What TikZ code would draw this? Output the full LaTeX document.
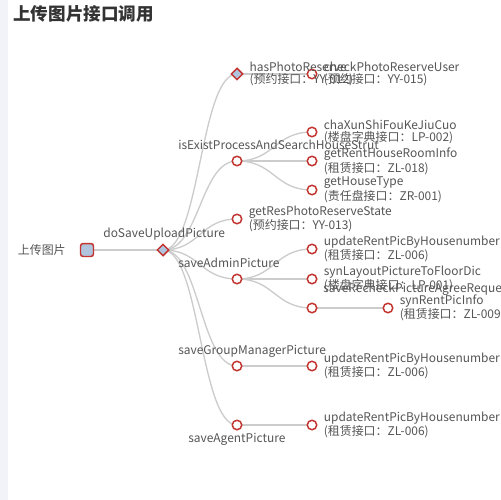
\documentclass[tikz,border=0pt]{standalone}
\usepackage{fontspec}
\setmainfont{Noto Sans CJK SC}
\usepackage{xcolor}
\usetikzlibrary{positioning,calc,shapes.geometric,backgrounds}
\definecolor{ECRed}{HTML}{C23531}
\definecolor{ECBlue}{HTML}{B0C4DE}
\definecolor{ECLine}{HTML}{CCCCCC}
\definecolor{ECText}{HTML}{555555}
\definecolor{ECTitle}{HTML}{333333}
\definecolor{ECSide}{HTML}{F2F3F8}
\tikzset{
  leaf/.style={circle,draw=ECRed,fill=white,line width=0.85pt,inner sep=0,minimum size=0.19cm},
  rootbox/.style={rectangle,rounded corners=1.5pt,draw=ECRed,fill=ECBlue,line width=0.85pt,inner sep=0,minimum size=0.26cm},
  joint/.style={diamond,aspect=1,draw=ECRed,fill=ECBlue,line width=0.85pt,inner sep=0,minimum size=0.24cm},
  tag/.style={text=ECText,inner sep=0,align=left,font=\fontsize{6.8pt}{6.8pt}\selectfont},
  edge/.style={ECLine,line width=0.75pt},
}

\begin{document}
\begin{tikzpicture}[x=0.02cm,y=-0.02cm]
\clip (0,0) rectangle (500,500);
\node[anchor=west,inner sep=0,text=ECTitle,font=\fontsize{10pt}{10pt}\selectfont\bfseries] (title) at (13,14) {上传图片接口调用};

% tree nodes
\node[rootbox] (root) at (87,250) {};
\node[joint] (dsup) at (163,250) {};
\node[joint] (hpr) at (237,74) {};
\node[leaf] (iep) at (237,161) {};
\node[leaf] (gpr) at (237,219) {};
\node[leaf] (sap) at (237,279) {};
\node[leaf] (sgm) at (237,366) {};
\node[leaf] (sag) at (237,425) {};
\node[leaf] (cpr) at (312,74) {};
\node[leaf] (cxs) at (312,132) {};
\node[leaf] (grh) at (312,161) {};
\node[leaf] (ght) at (312,190) {};
\node[leaf] (urpa) at (312,249) {};
\node[leaf] (syl) at (312,279) {};
\node[leaf] (srp) at (312,308) {};
\node[leaf] (srpi) at (388,308) {};
\node[leaf] (urpb) at (312,366) {};
\node[leaf] (urpc) at (312,425) {};

% page and edges under the nodes
\begin{scope}[on background layer]
\fill[white] (0,0) rectangle (500,500);
\fill[ECSide] (0,0) rectangle (8,500);
\foreach \a/\b in {root/dsup,dsup/hpr,dsup/iep,dsup/gpr,dsup/sap,dsup/sgm,dsup/sag,
  hpr/cpr,iep/cxs,iep/grh,iep/ght,sap/urpa,sap/syl,sap/srp,srp/srpi,sgm/urpb,sag/urpc}
  \draw[edge] let \p1=(\a), \p2=(\b) in
    (\p1) .. controls ({0.5*\x1+0.5*\x2},\y1) and ({0.5*\x1+0.5*\x2},\y2) .. (\p2);
\end{scope}

% labels
\node[tag,anchor=east] (root-t) at (66,250) {上传图片};
\node[tag,anchor=west] (dsup-t) at (103,234) {doSaveUploadPicture};
\node[tag,anchor=west] (iep-t) at (178,145) {isExistProcessAndSearchHouseStrut};
\node[tag,anchor=west] (sap-t) at (178,263) {saveAdminPicture};
\node[tag,anchor=west] (sgm-t) at (178,351) {saveGroupManagerPicture};
\node[tag,anchor=west] (sag-t) at (188,439) {saveAgentPicture};
\node[tag,anchor=west] (srp-t) at (323,289) {saveRecheckPictureAgreeRequest};
\node[tag,right=0.11cm of hpr] (hpr-t) {hasPhotoReserve\\(预约接口：YY-012)};
\node[tag,right=0.12cm of cpr] (cpr-t) {checkPhotoReserveUser\\(预约接口：YY-015)};
\node[tag,right=0.12cm of cxs] (cxs-t) {chaXunShiFouKeJiuCuo\\(楼盘字典接口：LP-002)};
\node[tag,right=0.12cm of grh] (grh-t) {getRentHouseRoomInfo\\(租赁接口：ZL-018)};
\node[tag,right=0.12cm of ght] (ght-t) {getHouseType\\(责任盘接口：ZR-001)};
\node[tag,right=0.12cm of gpr] (gpr-t) {getResPhotoReserveState\\(预约接口：YY-013)};
\node[tag,right=0.12cm of urpa] (urpa-t) {updateRentPicByHousenumber\\(租赁接口：ZL-006)};
\node[tag,right=0.12cm of syl] (syl-t) {synLayoutPictureToFloorDic\\(楼盘字典接口：LP-001)};
\node[tag,right=0.12cm of srpi] (srpi-t) {synRentPicInfo\\(租赁接口：ZL-009)};
\node[tag,right=0.12cm of urpb] (urpb-t) {updateRentPicByHousenumber\\(租赁接口：ZL-006)};
\node[tag,right=0.12cm of urpc] (urpc-t) {updateRentPicByHousenumber\\(租赁接口：ZL-006)};
\end{tikzpicture}
\end{document}
